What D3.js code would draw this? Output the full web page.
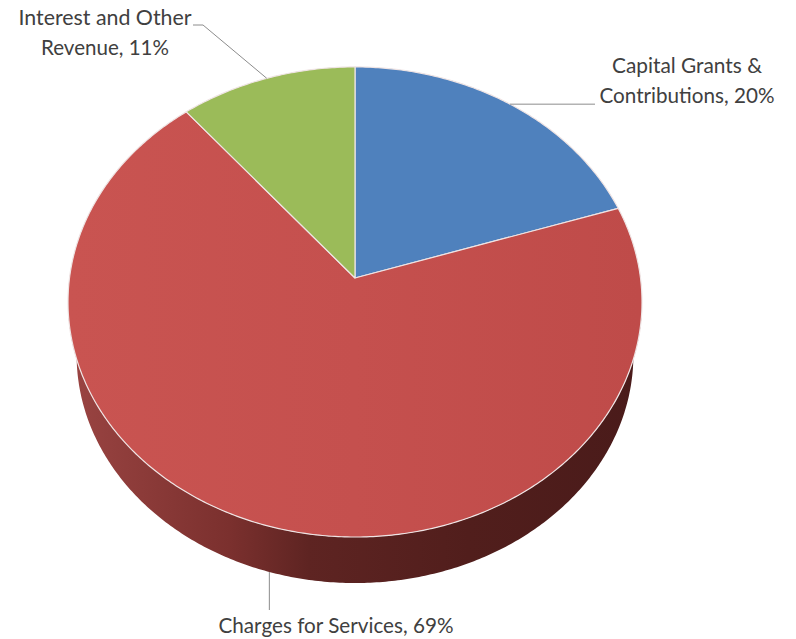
<!DOCTYPE html>
<html>
<head>
<meta charset="utf-8">
<script src="https://d3js.org/d3.v7.min.js"></script>
<style>
  body { margin: 0; background: #fff; }
  text { font-family: Lato, "Open Sans", sans-serif; fill: #404040; }
</style>
</head>
<body>
<svg id="chart" width="796" height="639"></svg>
<script>
// data
var categories = ["Capital Grants & Contributions", "Charges for Services", "Interest and Other Revenue"];
var values = [20, 69, 11];
var labelLines = [["Capital Grants &", "Contributions, 20%"], ["Charges for Services, 69%"], ["Interest and Other", "Revenue, 11%"]];
var colors = ["#4F81BD", "#C5504E", "#9BBB59"];

// layout of the tilted pie (perspective)
var cx = 355, cy = 278;   // apex on screen
var A = 285.5, B = 232.6; // horizontal / vertical radius factors
var k = -0.102;           // perspective strength
var bottomScale = 0.97;   // bottom face is further away, so a bit smaller
var bottomShift = 305 - 259 * bottomScale;

// where the labels sit (text centre x, first baseline y, line widths) and leader bends
var labelLayout = [
  {x: 687, y: 73, widths: [150, 175], leader: function(p) { return [p, [595, p[1]]]; }},
  {x: 336, y: 633, widths: [235], leader: function(p) { return [p, [p[0], 610]]; }},
  {x: 105, y: 25, widths: [173, 128], leader: function(p) { return [p, [203, 25], [193, 25]]; }}
];

var svg = d3.select("#chart");

function proj(a, bottom) {
  var u = Math.sin(a), v = -Math.cos(a);
  var den = 1 + k * v;
  var s = bottom ? bottomScale : 1;
  return [cx + s * A * u / den, cy + s * B * v / den + (bottom ? bottomShift : 0)];
}

function arcPoints(a0, a1, bottom) {
  var n = Math.max(2, Math.ceil(Math.abs(a1 - a0) / 0.01));
  return d3.range(n + 1).map(function(i) { return proj(a0 + (a1 - a0) * i / n, bottom); });
}

var line = d3.line();
var pie = d3.pie().sort(null).value(function(d) { return d; });
var arcs = pie(values);

// gradients
var defs = svg.append("defs");
var sideGrad = defs.append("linearGradient").attr("id", "side")
  .attr("gradientUnits", "userSpaceOnUse")
  .attr("x1", cx - A).attr("x2", cx + A).attr("y1", 0).attr("y2", 0);
[[0, "#9A4442"], [0.28, "#7B302E"], [0.42, "#5E2422"], [0.7, "#511E1C"], [1, "#4A1B1A"]].forEach(function(s) {
  sideGrad.append("stop").attr("offset", s[0]).attr("stop-color", s[1]);
});
var topGrad = defs.append("linearGradient").attr("id", "topRed")
  .attr("gradientUnits", "userSpaceOnUse")
  .attr("x1", cx - A).attr("x2", cx + A).attr("y1", 0).attr("y2", 0);
[[0, "#C95451"], [0.5, "#C5504E"], [1, "#BF4B49"]].forEach(function(s) {
  topGrad.append("stop").attr("offset", s[0]).attr("stop-color", s[1]);
});

// visible part of the rim (silhouette angles)
var aL = Math.acos(k), aR = 2 * Math.PI - Math.acos(k);

var sides = svg.append("g");
arcs.forEach(function(d, i) {
  var s = Math.max(d.startAngle, aL), e = Math.min(d.endAngle, aR);
  if (e <= s) return;
  var pts = arcPoints(s, e, false).concat(arcPoints(e, s, true));
  sides.append("path")
    .attr("d", line(pts) + "Z")
    .attr("fill", i === 1 ? "url(#side)" : d3.color(colors[i]).darker(1.4));
});

// top faces
var tops = svg.append("g");
tops.selectAll("path")
  .data(arcs)
  .enter()
  .append("path")
    .attr("d", function(d) { return line([[cx, cy]].concat(arcPoints(d.startAngle, d.endAngle, false))) + "Z"; })
    .attr("fill", function(d, i) { return i === 1 ? "url(#topRed)" : colors[i]; })
    .attr("stroke", "#EFE4E4")
    .attr("stroke-width", 1.2)
    .attr("stroke-linejoin", "round");

// labels and leader lines
arcs.forEach(function(d, i) {
  var mid = (d.startAngle + d.endAngle) / 2;
  var lay = labelLayout[i];
  var onBack = Math.cos(mid) > 0; // far half -> top edge, near half -> rim bottom
  var p = proj(mid, !onBack);
  svg.append("path")
    .attr("d", line(lay.leader(p)))
    .attr("fill", "none")
    .attr("stroke", "#8C8C8C")
    .attr("stroke-width", 1);
  labelLines[i].forEach(function(t, j) {
    svg.append("text")
      .attr("x", lay.x)
      .attr("y", lay.y + j * 30)
      .attr("text-anchor", "middle")
      .attr("font-size", 21)
      .attr("textLength", lay.widths[j])
      .attr("lengthAdjust", "spacingAndGlyphs")
      .text(t);
  });
});
</script>
</body>
</html>
